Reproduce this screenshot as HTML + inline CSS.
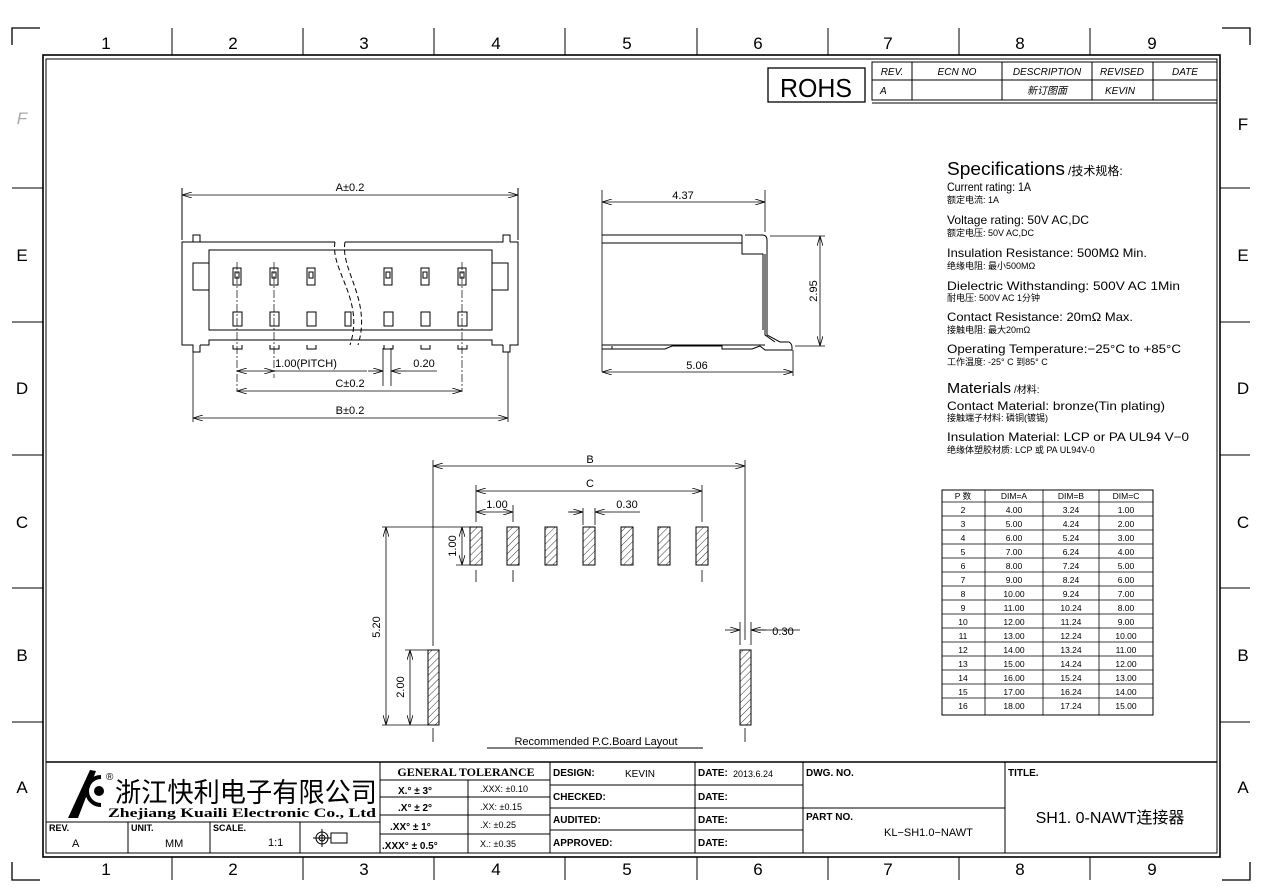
<!DOCTYPE html>
<html><head><meta charset="utf-8"><style>
body{margin:0;background:#fff}
svg{display:block}
text{font-family:"Liberation Sans","Noto Sans CJK SC",sans-serif;fill:#000}
.s{font-family:"Liberation Serif","Noto Serif CJK SC",serif;font-weight:bold}
</style></head><body>
<svg width="1262" height="892" viewBox="0 0 1262 892" xmlns="http://www.w3.org/2000/svg">
<defs>
<pattern id="h" width="5" height="5" patternUnits="userSpaceOnUse" patternTransform="rotate(45)"><line x1="0" y1="0" x2="0" y2="5" stroke="#000" stroke-width="0.8"/></pattern>
<marker id="a" viewBox="0 0 10 6" refX="10" refY="3" markerWidth="10" markerHeight="6" orient="auto-start-reverse" markerUnits="userSpaceOnUse"><path d="M0,0 L10,3 L0,6" fill="none" stroke="#000" stroke-width="0.8"/></marker>
</defs>
<g fill="none" stroke="#000" stroke-width="1">
<path d="M12,45 V28 H40 M1222,28 H1250 V45 M12,862 V880 H40 M1222,880 H1250 V862" stroke-width="1.3"/>
<rect x="43" y="55" width="1177" height="802" stroke-width="1.6"/>
<rect x="46" y="59" width="1171" height="794"/>
<path d="M172,28V55M303,28V55M434,28V55M565,28V55M697,28V55M828,28V55M959,28V55M1090,28V55"/>
<path d="M172,857V880M303,857V880M434,857V880M565,857V880M697,857V880M828,857V880M959,857V880M1090,857V880"/>
<path d="M12,188H43M12,322H43M12,455H43M12,588H43M12,722H43M1220,188H1250M1220,322H1250M1220,455H1250M1220,588H1250M1220,722H1250"/>
<rect x="768" y="68" width="97" height="34" stroke-width="1.3"/>
<rect x="872" y="62" width="345" height="38"/>
<path d="M872,80H1217M912,62V100M1002,62V100M1092,62V100M1153,62V100M872,103H1217"/>
</g>
<g font-size="17" text-anchor="middle">
<text x="106" y="49">1</text><text x="233" y="49">2</text><text x="364" y="49">3</text><text x="496" y="49">4</text><text x="627" y="49">5</text><text x="758" y="49">6</text><text x="888" y="49">7</text><text x="1020" y="49">8</text><text x="1152" y="49">9</text>
<text x="106" y="875">1</text><text x="233" y="875">2</text><text x="364" y="875">3</text><text x="496" y="875">4</text><text x="627" y="875">5</text><text x="758" y="875">6</text><text x="888" y="875">7</text><text x="1020" y="875">8</text><text x="1152" y="875">9</text>
<text x="22" y="124" font-style="italic" style="fill:#aaa">F</text><text x="22" y="261">E</text><text x="22" y="394">D</text><text x="22" y="528">C</text><text x="22" y="661">B</text><text x="22" y="793">A</text>
<text x="1243" y="130">F</text><text x="1243" y="261">E</text><text x="1243" y="394">D</text><text x="1243" y="528">C</text><text x="1243" y="661">B</text><text x="1243" y="793">A</text>
</g>
<text x="780" y="97" font-size="26" textLength="72" lengthAdjust="spacingAndGlyphs">ROHS</text>
<g font-size="10" font-style="italic" text-anchor="middle">
<text x="892" y="75">REV.</text><text x="957" y="75">ECN NO</text><text x="1047" y="75">DESCRIPTION</text><text x="1122" y="75">REVISED</text><text x="1185" y="75">DATE</text>
<text x="880" y="94" text-anchor="start">A</text><text x="1047" y="94">新订图面</text><text x="1105" y="94" text-anchor="start">KEVIN</text>
</g>

<g fill="none" stroke="#000" stroke-width="1">
<path d="M182,188V240M518,188V240"/>
<line x1="182" y1="195" x2="518" y2="195" marker-start="url(#a)" marker-end="url(#a)" stroke-width="0.8"/>
<path d="M335,242H193V235H200V242M345,242H503V235H510V242"/>
<path d="M193,242H182V345H193V352H200V345M510,242H518V345H510V352H503V345"/>
<path d="M200,345H209V340H492V345H503" />
<path d="M209,330V250H492V330Z"/>
<path d="M209,263H193V290H209M492,263H508V290H492"/>
<path d="M335,242C330,270 365,300 350,345M345,242C340,270 372,300 358,345" stroke-dasharray="5,3"/>
<g>
<rect x="233" y="268" width="8" height="17"/><rect x="270" y="268" width="8" height="17"/><rect x="307" y="268" width="8" height="17"/><rect x="384" y="268" width="8" height="17"/><rect x="421" y="268" width="8" height="17"/><rect x="458" y="268" width="8" height="17"/>
<rect x="235" y="272" width="4" height="6"/><rect x="272" y="272" width="4" height="6"/><rect x="309" y="272" width="4" height="6"/><rect x="386" y="272" width="4" height="6"/><rect x="423" y="272" width="4" height="6"/><rect x="460" y="272" width="4" height="6"/>
<rect x="233" y="312" width="9" height="14"/><rect x="270" y="312" width="9" height="14"/><rect x="307" y="312" width="9" height="14"/><rect x="384" y="312" width="9" height="14"/><rect x="421" y="312" width="9" height="14"/><rect x="458" y="312" width="9" height="14"/>
<rect x="345" y="312" width="6" height="14"/>
<path d="M233,345v4h9v-4M270,345v4h9v-4M307,345v4h9v-4M384,345v4h9v-4M421,345v4h9v-4M458,345v4h9v-4"/>
</g>
<path d="M237,262V392M274,262V378M462,262V392" stroke-dasharray="8,2,2,2" stroke-width="0.7"/>
<path d="M383,348V386M391,348V386M193,352V422M508,352V422" stroke-width="0.8"/>
<line x1="237" y1="371" x2="274" y2="371" marker-start="url(#a)" marker-end="url(#a)" stroke-width="0.8"/>
<path d="M274,371H367" stroke-width="0.7"/>
<line x1="368" y1="371" x2="383" y2="371" marker-end="url(#a)" stroke-width="0.8"/>
<line x1="406" y1="371" x2="391" y2="371" marker-end="url(#a)" stroke-width="0.8"/>
<path d="M406,371H437" stroke-width="0.7"/>
<line x1="237" y1="391" x2="462" y2="391" marker-start="url(#a)" marker-end="url(#a)" stroke-width="0.8"/>
<line x1="193" y1="418" x2="508" y2="418" marker-start="url(#a)" marker-end="url(#a)" stroke-width="0.8"/>
</g>
<g font-size="11" text-anchor="middle">
<text x="350" y="191">A±0.2</text>
<text x="306" y="367">1.00(PITCH)</text><text x="424" y="367">0.20</text>
<text x="350" y="387">C±0.2</text><text x="350" y="414">B±0.2</text>
</g>

<g fill="none" stroke="#000" stroke-width="1">
<path d="M602,190V372M765,190V232M793,350V376" stroke-width="0.8"/>
<line x1="602" y1="202" x2="765" y2="202" marker-start="url(#a)" marker-end="url(#a)" stroke-width="0.8"/>
<line x1="602" y1="372" x2="793" y2="372" marker-start="url(#a)" marker-end="url(#a)" stroke-width="0.8"/>
<path d="M770,236H825M795,346H825" stroke-width="0.8"/>
<line x1="820" y1="236" x2="820" y2="346" marker-start="url(#a)" marker-end="url(#a)" stroke-width="0.8"/>
<path d="M602,235H742M602,243H742M742,235V254H763V330"/>
<path d="M745,235H762Q767,235 767,240V330V335L780,342H789Q792,344 792,347V350H765L760,346"/>
<path d="M765,254V335L775,342"/>
<path d="M602,345H765M602,349H612V346M612,349H665L672,346H722V349H752L760,346"/>
</g>
<g font-size="11" text-anchor="middle">
<text x="683" y="199">4.37</text><text x="697" y="369">5.06</text>
<text transform="translate(817,291) rotate(-90)">2.95</text>
</g>

<g fill="none" stroke="#000" stroke-width="0.8">
<path d="M433,460V646M433,728V742M745,460V640M745,728V742"/>
<line x1="433" y1="466" x2="745" y2="466" marker-start="url(#a)" marker-end="url(#a)"/>
<path d="M476,485V522M702,485V522M513,505V522M476,570V582M513,570V582M702,570V582"/>
<line x1="476" y1="491" x2="702" y2="491" marker-start="url(#a)" marker-end="url(#a)"/>
<line x1="476" y1="512" x2="513" y2="512" marker-start="url(#a)" marker-end="url(#a)"/>
<path d="M583,508V525M595,508V525M568,512H583M610,512H640"/>
<line x1="570" y1="512" x2="583" y2="512" marker-end="url(#a)"/>
<line x1="610" y1="512" x2="595" y2="512" marker-end="url(#a)"/>
<path d="M382,527H470M456,565H470M382,725H428M405,650H428"/>
<line x1="462" y1="527" x2="462" y2="565" marker-start="url(#a)" marker-end="url(#a)"/>
<line x1="386" y1="527" x2="386" y2="725" marker-start="url(#a)" marker-end="url(#a)"/>
<line x1="410" y1="650" x2="410" y2="725" marker-start="url(#a)" marker-end="url(#a)"/>
<path d="M740,622V645M751,622V645M751,630H800"/>
<line x1="725" y1="630" x2="740" y2="630" marker-end="url(#a)"/>
<line x1="766" y1="630" x2="751" y2="630" marker-end="url(#a)"/>
<g fill="url(#h)" stroke-width="1">
<rect x="470" y="527" width="12" height="38"/><rect x="507" y="527" width="12" height="38"/><rect x="545" y="527" width="12" height="38"/><rect x="583" y="527" width="12" height="38"/><rect x="621" y="527" width="12" height="38"/><rect x="658" y="527" width="12" height="38"/><rect x="696" y="527" width="12" height="38"/>
<rect x="428" y="650" width="11" height="75"/><rect x="740" y="650" width="11" height="75"/>
</g>
<path d="M487,748H703" stroke-width="1"/>
</g>
<g font-size="11" text-anchor="middle">
<text x="590" y="463">B</text><text x="590" y="487">C</text>
<text x="497" y="508">1.00</text><text x="627" y="508">0.30</text><text x="783" y="635">0.30</text>
<text transform="translate(456,546) rotate(-90)">1.00</text>
<text transform="translate(380,627) rotate(-90)">5.20</text>
<text transform="translate(404,687) rotate(-90)">2.00</text>
<text x="596" y="745">Recommended P.C.Board  Layout</text>
</g>

<g lengthAdjust="spacingAndGlyphs">
<text x="947" y="175" font-size="18" textLength="118" lengthAdjust="spacingAndGlyphs">Specifications</text><text x="1068" y="175" font-size="12">/技术规格:</text>
<text x="947" y="191" font-size="12" textLength="84" lengthAdjust="spacingAndGlyphs">Current rating: 1A</text><text x="947" y="203" font-size="9">额定电流: 1A</text>
<text x="947" y="224" font-size="12" textLength="142" lengthAdjust="spacingAndGlyphs">Voltage rating: 50V AC,DC</text><text x="947" y="236" font-size="9">额定电压: 50V AC,DC</text>
<text x="947" y="257" font-size="12" textLength="200" lengthAdjust="spacingAndGlyphs">Insulation Resistance: 500MΩ  Min.</text><text x="947" y="269" font-size="9">绝缘电阻: 最小500MΩ</text>
<text x="947" y="290" font-size="12" textLength="233" lengthAdjust="spacingAndGlyphs">Dielectric Withstanding:  500V AC  1Min</text><text x="947" y="301" font-size="9">耐电压: 500V AC  1分钟</text>
<text x="947" y="321" font-size="12" textLength="186" lengthAdjust="spacingAndGlyphs">Contact Resistance:  20mΩ  Max.</text><text x="947" y="333" font-size="9">接触电阻: 最大20mΩ</text>
<text x="947" y="353" font-size="12" textLength="234" lengthAdjust="spacingAndGlyphs">Operating Temperature:−25°C to +85°C</text><text x="947" y="365" font-size="9">工作温度: -25° C 到85° C</text>
<text x="947" y="393" font-size="15" textLength="64" lengthAdjust="spacingAndGlyphs">Materials</text><text x="1014" y="393" font-size="10">/材料:</text>
<text x="947" y="410" font-size="12" textLength="218" lengthAdjust="spacingAndGlyphs">Contact Material: bronze(Tin plating)</text><text x="947" y="421" font-size="9">接触端子材料: 磷铜(镀锡)</text>
<text x="947" y="441" font-size="12" textLength="242" lengthAdjust="spacingAndGlyphs">Insulation Material: LCP or PA UL94 V−0</text><text x="947" y="453" font-size="9">绝缘体塑胶材质: LCP 或 PA UL94V-0</text>
</g>

<g fill="none" stroke="#000" stroke-width="0.8">
<rect x="942" y="490" width="211" height="225" stroke-width="1"/>
<path d="M985,490V715M1043,490V715M1099,490V715"/>
<path d="M942,502H1153M942,516H1153M942,530H1153M942,544H1153M942,558H1153M942,572H1153M942,586H1153M942,600H1153M942,614H1153M942,628H1153M942,642H1153M942,656H1153M942,670H1153M942,684H1153M942,698H1153"/>
</g>
<g font-size="8.5" text-anchor="middle">
<text x="963" y="499">P 数</text><text x="1014" y="499">DIM=A</text><text x="1071" y="499">DIM=B</text><text x="1126" y="499">DIM=C</text>
<text x="963" y="513">2</text><text x="1014" y="513">4.00</text><text x="1071" y="513">3.24</text><text x="1126" y="513">1.00</text>
<text x="963" y="527">3</text><text x="1014" y="527">5.00</text><text x="1071" y="527">4.24</text><text x="1126" y="527">2.00</text>
<text x="963" y="541">4</text><text x="1014" y="541">6.00</text><text x="1071" y="541">5.24</text><text x="1126" y="541">3.00</text>
<text x="963" y="555">5</text><text x="1014" y="555">7.00</text><text x="1071" y="555">6.24</text><text x="1126" y="555">4.00</text>
<text x="963" y="569">6</text><text x="1014" y="569">8.00</text><text x="1071" y="569">7.24</text><text x="1126" y="569">5.00</text>
<text x="963" y="583">7</text><text x="1014" y="583">9.00</text><text x="1071" y="583">8.24</text><text x="1126" y="583">6.00</text>
<text x="963" y="597">8</text><text x="1014" y="597">10.00</text><text x="1071" y="597">9.24</text><text x="1126" y="597">7.00</text>
<text x="963" y="611">9</text><text x="1014" y="611">11.00</text><text x="1071" y="611">10.24</text><text x="1126" y="611">8.00</text>
<text x="963" y="625">10</text><text x="1014" y="625">12.00</text><text x="1071" y="625">11.24</text><text x="1126" y="625">9.00</text>
<text x="963" y="639">11</text><text x="1014" y="639">13.00</text><text x="1071" y="639">12.24</text><text x="1126" y="639">10.00</text>
<text x="963" y="653">12</text><text x="1014" y="653">14.00</text><text x="1071" y="653">13.24</text><text x="1126" y="653">11.00</text>
<text x="963" y="667">13</text><text x="1014" y="667">15.00</text><text x="1071" y="667">14.24</text><text x="1126" y="667">12.00</text>
<text x="963" y="681">14</text><text x="1014" y="681">16.00</text><text x="1071" y="681">15.24</text><text x="1126" y="681">13.00</text>
<text x="963" y="695">15</text><text x="1014" y="695">17.00</text><text x="1071" y="695">16.24</text><text x="1126" y="695">14.00</text>
<text x="963" y="709">16</text><text x="1014" y="709">18.00</text><text x="1071" y="709">17.24</text><text x="1126" y="709">15.00</text>
</g>

<g fill="none" stroke="#000" stroke-width="1">
<path d="M46,762H1217" stroke-width="1.6"/>
<path d="M46,822H380M128,822V853M210,822V853M300,822V853M380,762V853"/>
<path d="M380,780H550M380,797H550M380,815H550M380,834H550M468,780V853M550,762V853"/>
<path d="M550,785H803M550,808H803M550,830H803M695,762V853M803,762V853M803,808H1005M1005,762V853"/>
<circle cx="322" cy="838" r="6"/><circle cx="322" cy="838" r="3"/><path d="M313,838H331M322,829V847M331,833H347V843H331Z"/>
</g>
<path d="M68,818 L90,770 L96,771 L78,818Z" fill="#000"/>
<path d="M101,777 A13,13 0 1,0 101,805" fill="none" stroke="#000" stroke-width="4"/>
<circle cx="99" cy="791" r="5" fill="#000"/>
<text x="106" y="780" font-size="10">®</text>
<text x="115" y="802" font-size="27" textLength="262" lengthAdjust="spacingAndGlyphs">浙江快利电子有限公司</text>
<text x="108" y="817" font-size="13" class="s" textLength="268" lengthAdjust="spacingAndGlyphs">Zhejiang Kuaili Electronic Co., Ltd</text>
<g font-size="9" class="s"><text x="49" y="831">REV.</text><text x="131" y="831">UNIT.</text><text x="213" y="831">SCALE.</text></g>
<g font-size="11"><text x="72" y="847">A</text><text x="165" y="847">MM</text><text x="268" y="846">1:1</text></g>
<text x="466" y="776" font-size="12" class="s" text-anchor="middle">GENERAL  TOLERANCE</text>
<g font-size="10" class="s"><text x="398" y="794">X.° ± 3°</text><text x="398" y="811">.X° ± 2°</text><text x="390" y="830">.XX° ± 1°</text><text x="382" y="849">.XXX° ± 0.5°</text></g>
<g font-size="9"><text x="480" y="792">.XXX: ±0.10</text><text x="480" y="810">.XX:  ±0.15</text><text x="480" y="828">.X:   ±0.25</text><text x="480" y="847">X.:   ±0.35</text></g>
<g font-size="10" class="s"><text x="553" y="776">DESIGN:</text><text x="553" y="800">CHECKED:</text><text x="553" y="823">AUDITED:</text><text x="553" y="846">APPROVED:</text>
<text x="698" y="776">DATE:</text><text x="698" y="800">DATE:</text><text x="698" y="823">DATE:</text><text x="698" y="846">DATE:</text>
<text x="806" y="776">DWG. NO.</text><text x="806" y="820">PART NO.</text><text x="1008" y="776">TITLE.</text></g>
<text x="625" y="777" font-size="10">KEVIN</text>
<text x="733" y="777" font-size="9">2013.6.24</text>
<text x="884" y="836" font-size="11">KL−SH1.0−NAWT</text>
<text x="1110" y="823" font-size="16" text-anchor="middle">SH1. 0-NAWT连接器</text>
</svg>
</body></html>
